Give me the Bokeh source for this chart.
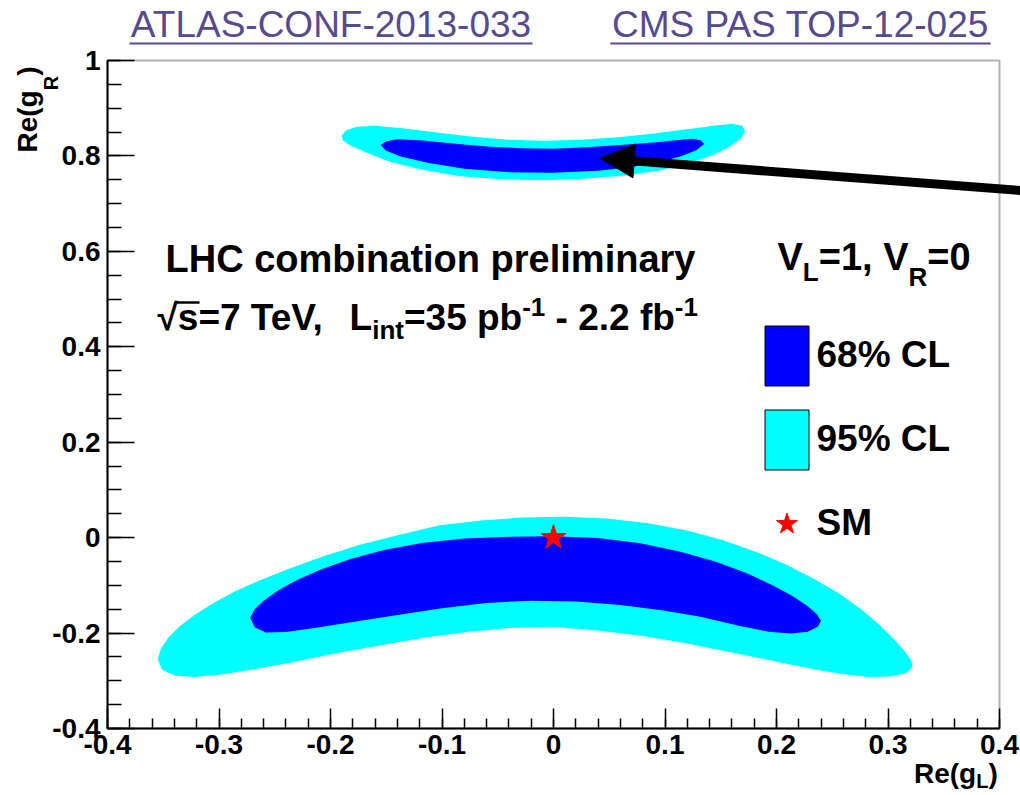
import math
from bokeh.plotting import figure
from bokeh.models import (Range1d, FixedTicker, Label, Arrow, NormalHead, BoxAnnotation,
                          Legend, LegendItem, LinearAxis)
from bokeh.embed import file_html
from bokeh.resources import INLINE

# ---------------- data ----------------
# lower 95% CL region (cyan): outer edge left->right, inner edge right->left
low95_x = [-0.355, -0.352, -0.345, -0.335, -0.322, -0.305, -0.285, -0.262, -0.235, -0.205,
           -0.172, -0.138, -0.102, -0.065, -0.028, 0.010, 0.048, 0.085, 0.120, 0.153,
           0.183, 0.210, 0.235, 0.257, 0.276, 0.292, 0.305, 0.315, 0.321, 0.322,
           0.316, 0.302,
           0.283, 0.262, 0.238, 0.210, 0.180, 0.148, 0.115, 0.080, 0.042, 0.003,
           -0.036, -0.076, -0.116, -0.156, -0.196, -0.234, -0.268, -0.298, -0.322, -0.340,
           -0.351]
low95_y = [-0.255, -0.232, -0.208, -0.185, -0.162, -0.137, -0.112, -0.088, -0.063, -0.038,
           -0.014, 0.006, 0.026, 0.036, 0.042, 0.044, 0.040, 0.030, 0.015, -0.006,
           -0.031, -0.058, -0.088, -0.118, -0.150, -0.182, -0.212, -0.238, -0.258, -0.272,
           -0.284, -0.291,
           -0.292, -0.287, -0.278, -0.265, -0.250, -0.235, -0.220, -0.206, -0.195, -0.188,
           -0.189, -0.197, -0.210, -0.226, -0.243, -0.261, -0.276, -0.287, -0.292, -0.289,
           -0.277]

# lower 68% CL region (blue)
low68_x = [-0.272, -0.268, -0.260, -0.247, -0.230, -0.208, -0.182, -0.152, -0.118, -0.080,
           -0.040, 0.000, 0.040, 0.078, 0.113, 0.145, 0.173, 0.196, 0.214, 0.228,
           0.236, 0.240, 0.237, 0.228, 0.213,
           0.193, 0.165, 0.132, 0.097, 0.060, 0.020, -0.020, -0.060, -0.100, -0.140,
           -0.180, -0.213, -0.240, -0.258, -0.268]
low68_y = [-0.168, -0.150, -0.132, -0.111, -0.089, -0.066, -0.045, -0.026, -0.011, -0.002,
           0.002, 0.003, -0.001, -0.012, -0.029, -0.050, -0.074, -0.099, -0.122, -0.144,
           -0.160, -0.174, -0.187, -0.197, -0.201,
           -0.197, -0.184, -0.166, -0.152, -0.141, -0.134, -0.132, -0.137, -0.148, -0.162,
           -0.177, -0.189, -0.198, -0.199, -0.188]

# upper 95% CL region (cyan)
up95_x = [-0.190, -0.186, -0.176, -0.160, -0.135, -0.105, -0.072, -0.040, -0.008, 0.025,
          0.058, 0.090, 0.120, 0.145, 0.160, 0.169, 0.172,
          0.168, 0.157, 0.141, 0.121, 0.097, 0.065, 0.028, -0.010, -0.048, -0.085,
          -0.118, -0.147, -0.168, -0.183, -0.189]
up95_y = [0.843, 0.854, 0.861, 0.863, 0.858, 0.849, 0.840, 0.834, 0.832, 0.834,
          0.839, 0.847, 0.856, 0.864, 0.867, 0.864, 0.852,
          0.836, 0.818, 0.800, 0.784, 0.770, 0.759, 0.752, 0.749, 0.751, 0.758,
          0.771, 0.788, 0.807, 0.823, 0.833]

# upper 68% CL region (blue)
up68_x = [-0.155, -0.150, -0.140, -0.120, -0.090, -0.060, -0.030, 0.000, 0.030, 0.060,
          0.090, 0.110, 0.124, 0.132, 0.135,
          0.128, 0.115, 0.095, 0.070, 0.040, 0.000, -0.040, -0.080, -0.112, -0.137,
          -0.150]
up68_y = [0.823, 0.831, 0.835, 0.833, 0.826, 0.820, 0.816, 0.815, 0.818, 0.823,
          0.828, 0.833, 0.836, 0.833, 0.825,
          0.812, 0.800, 0.787, 0.777, 0.769, 0.765, 0.766, 0.773, 0.785, 0.799,
          0.811]

# Standard Model point
sm_x = [0.0]
sm_y = [0.0]

# arrow pointing at the upper 68% region (data coordinates)
arrow_tail = (0.455, 0.721)
arrow_tip = (0.042, 0.795)

# axes
x_ticks = [-0.4, -0.3, -0.2, -0.1, 0.0, 0.1, 0.2, 0.3, 0.4]
x_tick_labels = ["-0.4", "-0.3", "-0.2", "-0.1", "0", "0.1", "0.2", "0.3", "0.4"]
y_ticks = [-0.4, -0.2, 0.0, 0.2, 0.4, 0.6, 0.8, 1.0]
y_tick_labels = ["-0.4", "-0.2", "0", "0.2", "0.4", "0.6", "0.8", "1"]
x_minor = [round(-0.4 + 0.02 * i, 2) for i in range(41)]
y_minor = [round(-0.4 + 0.05 * i, 2) for i in range(29)]

legend_labels = ["68% CL", "95% CL", "SM"]
links = ["ATLAS-CONF-2013-033", "CMS PAS TOP-12-025"]

# ---------------- layout ----------------
W, H = 1020, 795
FL, FR, FT, FB = 107, 999, 60, 728          # the ROOT frame, in canvas pixels
X0, X1, Y0, Y1 = -0.4, 0.4, -0.4, 1.0       # axis limits
BLUE, CYAN, RED = "#0000ff", "#00ffff", "#ff0000"
LINK = "#574a8f"
FONT = "Liberation Sans"
BASE_FIX = 0.36   # Bokeh draws "alphabetic" labels this many em lower than asked

KX = (X1 - X0) / (FR - FL)
KY = (Y1 - Y0) / (FB - FT)


def dx(sx):
    return X0 + (sx - FL) * KX


def dy(sy):
    return Y1 - (sy - FT) * KY


AB = {' ': 278, '%': 889, '(': 333, ')': 333, ',': 278, '-': 333, '.': 278, '=': 584,
      'C': 722, 'H': 722, 'L': 611, 'M': 833, 'R': 722, 'S': 667, 'T': 611, 'V': 667,
      'a': 556, 'b': 611, 'c': 556, 'e': 556, 'f': 333, 'g': 611, 'i': 278, 'l': 278,
      'm': 889, 'n': 611, 'o': 611, 'p': 611, 'r': 389, 's': 556, 't': 333, 'y': 556,
      '\u221a': 549}
for d in "0123456789":
    AB[d] = 556
AR = {' ': 278, '-': 333, 'A': 667, 'C': 722, 'F': 611, 'L': 556, 'M': 833, 'N': 722,
      'O': 778, 'P': 667, 'S': 667, 'T': 611}
for d in "0123456789":
    AR[d] = 556


def tw(text, size, table):
    return sum(table.get(c, 600) for c in text) * size / 1000.0


# the plotting frame covers the whole canvas; the ROOT-like axes are placed at fixed locations
p = figure(width=W, height=H,
           x_range=Range1d(dx(0), dx(W)), y_range=Range1d(dy(H), dy(0)),
           output_backend="svg", toolbar_location=None, title=None,
           x_axis_location=None, y_axis_location=None,
           min_border=0)
for g in p.grid:
    g.visible = False
p.background_fill_color = "white"
p.border_fill_color = "white"
p.outline_line_color = None

xaxis = LinearAxis(fixed_location=Y0, bounds=(X0, X1))
yaxis = LinearAxis(fixed_location=X0, bounds=(Y0, Y1))
p.add_layout(xaxis, "below")
p.add_layout(yaxis, "left")

for ax, ticks, minor, labels, tin, mtin, stand in (
        (xaxis, x_ticks, x_minor, x_tick_labels, 20, 10, 6),
        (yaxis, y_ticks, y_minor, y_tick_labels, 27, 14, 7)):
    ax.ticker = FixedTicker(ticks=ticks, minor_ticks=minor)
    ax.major_label_overrides = dict(zip(ticks, labels))
    ax.major_tick_in = tin
    ax.major_tick_out = 0
    ax.minor_tick_in = mtin
    ax.minor_tick_out = 0
    ax.major_tick_line_width = 1.5
    ax.minor_tick_line_width = 1.5
    ax.axis_line_width = 2
    ax.major_label_standoff = stand
    ax.major_label_text_font = FONT
    ax.major_label_text_font_style = "bold"
    ax.major_label_text_font_size = "28px"
    ax.major_label_text_color = "black"

# contours
p.patch(low95_x, low95_y, fill_color=CYAN, line_color=None)
p.patch(up95_x, up95_y, fill_color=CYAN, line_color=None)
p.patch(low68_x, low68_y, fill_color=BLUE, line_color=None)
p.patch(up68_x, up68_y, fill_color=BLUE, line_color=None)
rsm = p.scatter(sm_x, sm_y, marker="star", size=26, fill_color=RED, line_color=RED)

# frame box
p.add_layout(BoxAnnotation(left=X0, right=X1, bottom=Y0, top=Y1, fill_alpha=0,
                           line_color="black", line_width=2))

# legend swatches (outlined boxes like the reference); not drawn in the plot (NaN)
nan = float("nan")
sw68 = p.quad(left=[nan], right=[nan], top=[nan], bottom=[nan],
              fill_color=BLUE, line_color="black", line_width=1)
sw95 = p.quad(left=[nan], right=[nan], top=[nan], bottom=[nan],
              fill_color=CYAN, line_color="black", line_width=1)

legend = Legend(items=[LegendItem(label=legend_labels[0], renderers=[sw68]),
                       LegendItem(label=legend_labels[1], renderers=[sw95]),
                       LegendItem(label=legend_labels[2], renderers=[rsm])],
                location=(758.5, H - 560.5), orientation="vertical",
                glyph_width=55, glyph_height=75, label_height=75, spacing=9,
                label_standoff=3, padding=0, margin=0,
                border_line_color=None, background_fill_alpha=0,
                label_text_font=FONT, label_text_font_style="bold",
                label_text_font_size="37px", label_text_color="black")
p.add_layout(legend)


def put(sx, sy, text, size, style="bold", color="black", angle=0.0, align="left"):
    # (sx, sy): wanted start of the baseline on the canvas
    if angle == 0.0:
        sy = sy - BASE_FIX * size
    else:
        sx = sx - BASE_FIX * size
    p.add_layout(Label(x=dx(sx), y=dy(sy), x_units="data", y_units="data", text=text,
                       text_font=FONT, text_font_style=style, text_font_size=f"{size}px",
                       text_color=color, text_align=align, text_baseline="alphabetic",
                       angle=angle))


def put_runs(sx, sy, parts, rotated=False):
    # parts: (text, font size px, baseline shift px); SVG collapses spaces, so
    # leading spaces are turned into an explicit advance
    pos = sy if rotated else sx
    for text, size, off in parts:
        stripped = text.lstrip(" ")
        lead = tw(text[:len(text) - len(stripped)], size, AB)
        if rotated:
            put(sx + off, pos - lead, stripped, size, angle=math.pi / 2)
            pos -= tw(text, size, AB)
        else:
            put(pos + lead, sy + off, stripped, size)
            pos += tw(text, size, AB)


def hline(sx0, sx1, sy, color, width):
    p.add_layout(Arrow(end=None, x_start=dx(sx0), y_start=dy(sy), x_end=dx(sx1), y_end=dy(sy),
                       line_color=color, line_width=width))


# link-like headers
for text, cx in zip(links, (330.5, 800)):
    put(cx, 37, text, 37, style="normal", color=LINK, align="center")
    w = tw(text, 37, AR)
    hline(cx - w / 2, cx + w / 2, 43, LINK, 2)

# in-plot texts
put(165, 272, "LHC combination preliminary", 38)
put_runs(157, 330, [("\u221a", 37, 0), ("s=7 TeV,", 37, 0), ("  L", 37, 0), ("int", 26, 9),
                    ("=35 pb", 37, 0), ("-1", 26, -14), (" - 2.2 fb", 37, 0), ("-1", 26, -14)])
hline(176, 199, 302, "black", 2.5)
put_runs(777, 270, [("V", 38, 0), ("L", 26, 11), ("=1,", 38, 0), (" V", 38, 0),
                    ("R", 26, 16), ("=0", 38, 0)])

# axis titles
put_runs(913.5, 783, [("Re(g", 28, 0), ("L", 20, 5), (")", 28, 0)])
put_runs(37, 152, [("Re(g", 28, 0), ("R", 20, 21), (")", 28, 0)], rotated=True)

# arrow
p.add_layout(Arrow(end=NormalHead(size=34, fill_color="black", line_color="black"),
                   x_start=arrow_tail[0], y_start=arrow_tail[1],
                   x_end=arrow_tip[0], y_end=arrow_tip[1],
                   line_color="black", line_width=9))

open("out.html", "w").write(file_html(p, INLINE))
